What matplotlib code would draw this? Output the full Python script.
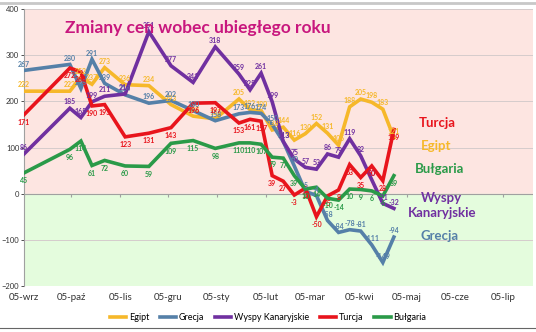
import matplotlib.pyplot as plt
import matplotlib.dates as mdates
import numpy as np
import pandas as pd
from matplotlib.lines import Line2D

plt.rcParams['font.family'] = ['Lato', 'DejaVu Sans']

# dates of the price surveys
dates = pd.to_datetime([
    '2005-09-01', '2005-09-30', '2005-10-07', '2005-10-14', '2005-10-22',
    '2005-11-04', '2005-11-19', '2005-12-03', '2005-12-17', '2005-12-31',
    '2006-01-15', '2006-01-22', '2006-01-29', '2006-02-05', '2006-02-12',
    '2006-02-19', '2006-02-26', '2006-03-05', '2006-03-12', '2006-03-19',
    '2006-03-26', '2006-04-02', '2006-04-09', '2006-04-16', '2006-04-23'])

egipt = [222, 222, 252, 237, 273, 236, 234, 193, 168, 162, 205, 182, 180,
         138, 144, 116, 130, 152, 131, 105, 188, 205, 198, 183, 121]
grecja = [267, 280, 228, 291, 239, 214, 196, 202, 180, 158, 173, 176, 174,
          150, 113, 60, 5, -4, -58, -84, -78, -81, -111, -149, -94]
wyspy = [86, 185, 165, 199, 211, 216, 351, 277, 241, 318, 259, 225, 261,
         199, 113, 75, 57, 53, 86, 79, 119, 82, 30, -21, -32]
turcja = [171, 272, 264, 190, 193, 123, 131, 143, 196, 197, 153, 161, 157,
          39, 27, -3, 12, -50, -5, 8, 63, 35, 60, 28, 139]
bulgaria = [45, 96, 114, 61, 72, 60, 59, 109, 115, 98, 110, 110, 107,
            79, 77, 39, 10, 14, -10, -14, 10, 9, 6, -5, 39]

month_ticks = pd.date_range('2005-09-01', '2006-07-01', freq='MS')
month_labels = ['05-wrz', '05-paź', '05-lis', '05-gru', '05-sty', '05-lut',
                '05-mar', '05-kwi', '05-maj', '05-cze', '05-lip']

series = [
    ('Egipt', egipt, '#F6B82A', 'above'),
    ('Grecja', grecja, '#5580A8', 'above'),
    ('Wyspy Kanaryjskie', wyspy, '#7030A0', 'above'),
    ('Turcja', turcja, '#E8141C', 'below'),
    ('Bułgaria', bulgaria, '#2A9A48', 'below'),
]

fig = plt.figure(figsize=(5.36, 3.32), dpi=100)
ax = fig.add_axes([24/536, 1 - 286/332, (533-24)/536, (286-9)/332])

ax.set_ylim(-200, 400)
ax.set_xlim(pd.Timestamp('2005-09-01'), pd.Timestamp('2006-07-20'))
ax.axhspan(0, 400, color='#FDE5E1', zorder=0)
ax.axhspan(-200, 0, color='#E4FCDD', zorder=0)
for yv in range(-200, 401, 100):
    ax.axhline(yv, color='#d5cccc', lw=0.7, zorder=1)
ax.axhline(0, color='#a0a0a0', lw=0.8, zorder=1)
ax.vlines(month_ticks, -8, 0, color='#a0a0a0', lw=0.8, zorder=1)

handles = []
for name, vals, col, pos in series:
    h, = ax.plot(dates, vals, color=col, lw=2.6, solid_joinstyle='miter', zorder=3)
    handles.append(h)
    off = 2 if pos == 'above' else -3
    va = 'bottom' if pos == 'above' else 'top'
    for d, v in zip(dates, vals):
        ax.annotate(str(v), (d, v), xytext=(0, off), textcoords='offset points',
                    ha='center', va=va, fontsize=5, color=col, fontweight='bold',
                    zorder=4)

ax.set_xticks(month_ticks)
ax.set_xticklabels(month_labels, fontsize=7, color='#333333')
ax.tick_params(axis='x', length=0, pad=5)
ax.set_yticks(range(-200, 401, 100))
ax.tick_params(axis='y', labelsize=5.5, colors='#333333', length=2, width=0.6, pad=1.5)
for s in ['top', 'right', 'bottom']:
    ax.spines[s].set_visible(False)
ax.spines['left'].set_color('#a0a0a0')

ax.text(0.08, 0.96, 'Zmiany cen wobec ubiegłego roku', transform=ax.transAxes,
        fontsize=12.5, color='#C8177E', fontweight='bold', va='top', zorder=5)

end_labels = [
    ('Turcja', '2006-05-09', 153, '#E8141C'),
    ('Egipt', '2006-05-10', 104, '#F6B82A'),
    ('Bułgaria', '2006-05-06', 54, '#2A9A48'),
    ('Wyspy', '2006-05-10', -9, '#7030A0'),
    ('Kanaryjskie', '2006-05-02', -41, '#7030A0'),
    ('Grecja', '2006-05-10', -91, '#5580A8'),
]
for txt, d, y, col in end_labels:
    ax.text(pd.Timestamp(d), y, txt, color=col, fontsize=9.5, fontweight='bold',
            va='center', ha='left')

fig.legend(handles, [s[0] for s in series], loc='center', ncol=5,
           bbox_to_anchor=(0.5, 1 - 318/332), frameon=False, fontsize=6.5,
           handlelength=1.8, handletextpad=0.3, columnspacing=1.2)

fig.add_artist(Line2D([0, 1], [1 - 3/332, 1 - 3/332], color='#c8c8c8', lw=2))
fig.add_artist(Line2D([0, 1], [1 - 328/332, 1 - 328/332], color='#666666', lw=0.8))

fig.savefig('out.png', dpi=100)
